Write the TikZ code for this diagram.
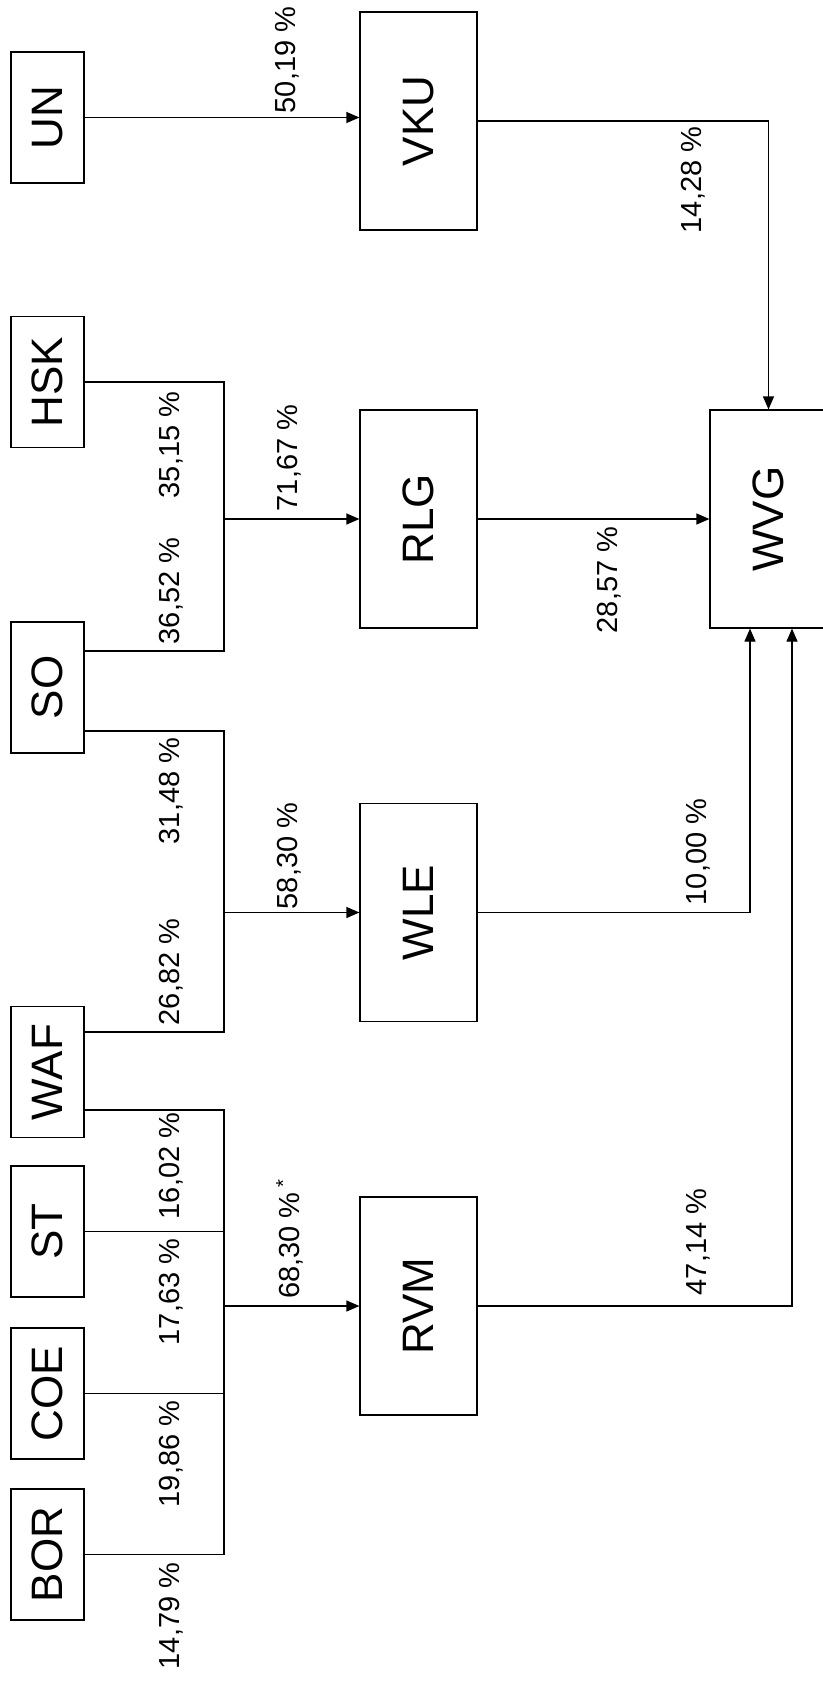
\documentclass[tikz,border=0pt]{standalone}
\usepackage{fontspec}
\setmainfont{Liberation Sans}
\usepackage{tikz}
\usetikzlibrary{arrows.meta}

\begin{document}
\begin{tikzpicture}[x=1pt,y=-1pt,line width=1.2pt,
    src/.style={draw=black,minimum width=73pt,minimum height=131pt,inner sep=0pt,font=\fontsize{44}{44}\selectfont},
    mid/.style={draw=black,minimum width=117pt,minimum height=218pt,inner sep=0pt,font=\fontsize{44}{44}\selectfont},
    pct/.style={rotate=90,inner sep=0pt,font=\fontsize{29}{29}\selectfont},
    arr/.style={-{Triangle[length=13pt,width=11pt]}}]
    \useasboundingbox (0,0) rectangle (822,1683);

    % owners
    \node[src] (UN) at (47.5,117.5) {\rotatebox{90}{UN}};
    \node[src] (HSK) at (47.5,382) {\rotatebox{90}{HSK}};
    \node[src] (SO) at (47.5,687.5) {\rotatebox{90}{SO}};
    \node[src] (WAF) at (47.5,1072) {\rotatebox{90}{WAF}};
    \node[src] (ST) at (47.5,1231.5) {\rotatebox{90}{ST}};
    \node[src] (COE) at (47.5,1393.5) {\rotatebox{90}{COE}};
    \node[src] (BOR) at (47.5,1554.5) {\rotatebox{90}{BOR}};

    % holdings
    \node[mid] (VKU) at (418.5,121) {\rotatebox{90}{VKU}};
    \node[mid] (RLG) at (418.5,519) {\rotatebox{90}{RLG}};
    \node[mid] (WLE) at (418.5,912.5) {\rotatebox{90}{WLE}};
    \node[mid] (RVM) at (418.5,1306) {\rotatebox{90}{RVM}};
    \node[mid] (WVG) at (768.5,519) {\rotatebox{90}{WVG}};

    \coordinate (jRLG) at (224,519);
    \coordinate (jWLE) at (224,912.5);
    \coordinate (jRVM) at (224,1306);

    \draw[arr] (UN.east) -- (UN.east -| VKU.west);
    \draw[arr] (VKU.east) -| (WVG.north);

    \draw (HSK.east) -| (jRLG);
    \draw ([yshift=36.5pt]SO.east) -| (jRLG);
    \draw[arr] (jRLG) -- (RLG.west);
    \draw[arr] (RLG.east) -- (WVG.west);

    \draw ([yshift=-43.5pt]SO.east) -| (jWLE);
    \draw ([yshift=40pt]WAF.east) -| (jWLE);
    \draw[arr] (jWLE) -- (WLE.west);
    \draw[arr] (WLE.east) -| ([xshift=-18.5pt]WVG.south);

    \draw ([yshift=-38pt]WAF.east) -| (jRVM);
    \draw (ST.east) -| (jRVM);
    \draw (COE.east) -| (jRVM);
    \draw (BOR.east) -| (jRVM);
    \draw[arr] (jRVM) -- (RVM.west);
    \draw[arr] (RVM.east) -| ([xshift=23.5pt]WVG.south);

    % shares
    \node[pct] (pUN) at (287,60) {50,19 \%};
    \node[pct] (pVKU) at (693,180) {14,28 \%};
    \node[pct] (pHSK) at (171.5,445) {35,15 \%};
    \node[pct] (pRLGin) at (289.5,458) {71,67 \%};
    \node[pct] (pRLG) at (609.5,580) {28,57 \%};
    \node[pct] (pSOa) at (171.5,591) {36,52 \%};
    \node[pct] (pSOb) at (171.5,791) {31,48 \%};
    \node[pct] (pWLEin) at (289.5,856) {58,30 \%};
    \node[pct] (pWLE) at (698.5,852) {10,00 \%};
    \node[pct] (pWAFa) at (171.5,972) {26,82 \%};
    \node[pct] (pWAFb) at (171.5,1166) {16,02 \%};
    \node[pct] (pRVMin) at (289.5,1239) {68,30 \%\,\textsuperscript{*}};
    \node[pct] (pRVM) at (698.5,1242) {47,14 \%};
    \node[pct] (pST) at (171.5,1292) {17,63 \%};
    \node[pct] (pCOE) at (171.5,1454) {19,86 \%};
    \node[pct] (pBOR) at (171.5,1616) {14,79 \%};
\end{tikzpicture}
\end{document}
